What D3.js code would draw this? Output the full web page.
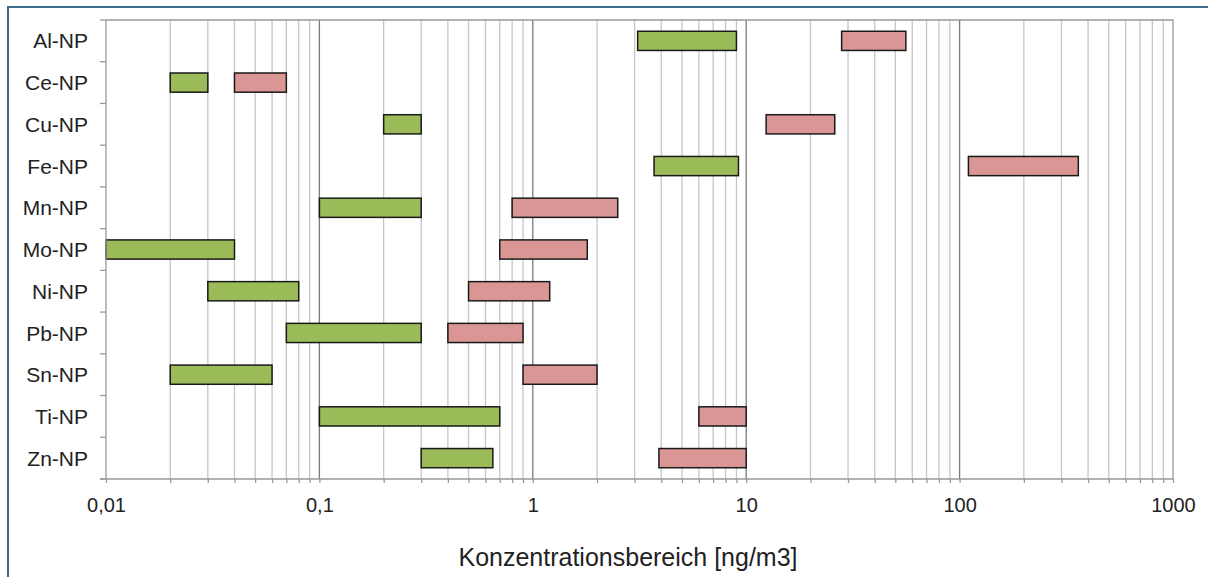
<!DOCTYPE html>
<html>
<head>
<meta charset="utf-8">
<script src="https://cdn.jsdelivr.net/npm/d3@7"></script>
<style>
  html, body { margin: 0; padding: 0; background: #fff; }
  svg { display: block; font-family: "Liberation Sans", Arial, sans-serif; }
</style>
</head>
<body>
<svg id="chart" width="1208" height="577"></svg>
<script>
// Nanoparticle species (top to bottom)
const categories = ["Al-NP", "Ce-NP", "Cu-NP", "Fe-NP", "Mn-NP", "Mo-NP", "Ni-NP", "Pb-NP", "Sn-NP", "Ti-NP", "Zn-NP"];

// Concentration ranges [min, max] in ng/m3 — first series (green)
const rangeLow = [
  [3.1, 9], [0.02, 0.03], [0.2, 0.3], [3.7, 9.2], [0.1, 0.3], [0.01, 0.04],
  [0.03, 0.08], [0.07, 0.3], [0.02, 0.06], [0.1, 0.7], [0.3, 0.65]
];
// Concentration ranges [min, max] in ng/m3 — second series (red)
const rangeHigh = [
  [28, 56], [0.04, 0.07], [12.4, 26], [110, 360], [0.8, 2.5], [0.7, 1.8],
  [0.5, 1.2], [0.4, 0.9], [0.9, 2], [6, 10], [3.9, 10]
];

// Labelled decades on the log axis
const tickValues = [0.01, 0.1, 1, 10, 100, 1000];
const tickLabels = ["0,01", "0,1", "1", "10", "100", "1000"];
const axisTitle = "Konzentrationsbereich [ng/m3]";

const svg = d3.select("#chart");
const plot = { left: 106, right: 1173, top: 20, bottom: 479 };

const x = d3.scaleLog().domain([0.01, 1000]).range([plot.left, plot.right]);
const y = d3.scaleBand().domain(categories).range([plot.top, plot.bottom]);

// Outer frame (top and left edges)
svg.append("line").attr("x1", 8).attr("x2", 1208).attr("y1", 7).attr("y2", 7)
  .attr("stroke", "#3f6d8c").attr("stroke-width", 2);
svg.append("line").attr("x1", 8).attr("x2", 8).attr("y1", 6).attr("y2", 577)
  .attr("stroke", "#3f6d8c").attr("stroke-width", 2);

// Minor and major vertical gridlines
const allTicks = x.ticks();
const isMajor = v => tickValues.some(t => Math.abs(t - v) / t < 1e-6);
svg.append("g").selectAll("line")
  .data(allTicks.filter(v => !isMajor(v)))
  .join("line")
  .attr("x1", d => x(d)).attr("x2", d => x(d))
  .attr("y1", plot.top).attr("y2", plot.bottom)
  .attr("stroke", "#c6c6c6").attr("stroke-width", 1.3);
svg.append("g").selectAll("line")
  .data(tickValues.slice(1, -1))
  .join("line")
  .attr("x1", d => x(d)).attr("x2", d => x(d))
  .attr("y1", plot.top).attr("y2", plot.bottom)
  .attr("stroke", "#7a7a7a").attr("stroke-width", 1.3);

// Plot border (top and right)
svg.append("path")
  .attr("d", `M${plot.left},${plot.top}H${plot.right}V${plot.bottom}`)
  .attr("fill", "none").attr("stroke", "#999").attr("stroke-width", 1.3);

// Bars
const barH = y.bandwidth() * 0.46;
function drawBars(ranges, fill) {
  svg.append("g").selectAll("rect")
    .data(ranges.map((r, i) => ({ cat: categories[i], lo: r[0], hi: r[1] })))
    .join("rect")
    .attr("x", d => x(d.lo))
    .attr("width", d => x(d.hi) - x(d.lo))
    .attr("y", d => y(d.cat) + (y.bandwidth() - barH) / 2)
    .attr("height", barH)
    .attr("fill", fill)
    .attr("stroke", "#1a1a1a").attr("stroke-width", 1.5);
}
drawBars(rangeLow, "#9bbb59");
drawBars(rangeHigh, "#d99694");

// X axis
const xAxis = d3.axisBottom(x)
  .tickValues(allTicks)
  .tickSize(4)
  .tickSizeOuter(0)
  .tickFormat(v => { const i = tickValues.findIndex(t => Math.abs(t - v) / t < 1e-6); return i >= 0 ? tickLabels[i] : ""; });
const gx = svg.append("g").attr("transform", `translate(0,${plot.bottom})`).call(xAxis);
gx.select(".domain").attr("stroke", "#999").attr("stroke-width", 1.3)
  .attr("d", `M${plot.left - 6},0H${plot.right}`);
gx.selectAll(".tick line").attr("stroke", "#999").attr("stroke-width", 1.3);
gx.selectAll(".tick text")
  .attr("y", 0)
  .attr("dy", "33px")
  .attr("fill", "#222")
  .style("font-size", "20px")
  .style("font-family", "'Liberation Sans', Arial, sans-serif");

// Y axis: boundary ticks between categories
const bounds = d3.range(categories.length + 1).map(i => plot.top + i * y.step());
svg.append("line").attr("x1", plot.left).attr("x2", plot.left)
  .attr("y1", plot.top).attr("y2", plot.bottom)
  .attr("stroke", "#999").attr("stroke-width", 1.3);
svg.append("g").selectAll("line").data(bounds).join("line")
  .attr("x1", plot.left - 6).attr("x2", plot.left)
  .attr("y1", d => d).attr("y2", d => d)
  .attr("stroke", "#999").attr("stroke-width", 1.3);

// Category labels
svg.append("g").selectAll("text").data(categories).join("text")
  .attr("x", 88)
  .attr("y", d => y(d) + y.bandwidth() / 2)
  .attr("dy", "0.36em")
  .attr("text-anchor", "end")
  .attr("fill", "#222")
  .style("font-size", "21px")
  .text(d => d);

// Axis title
svg.append("text")
  .attr("x", 628).attr("y", 566)
  .attr("text-anchor", "middle")
  .attr("fill", "#222")
  .style("font-size", "25px")
  .text(axisTitle);
</script>
</body>
</html>
